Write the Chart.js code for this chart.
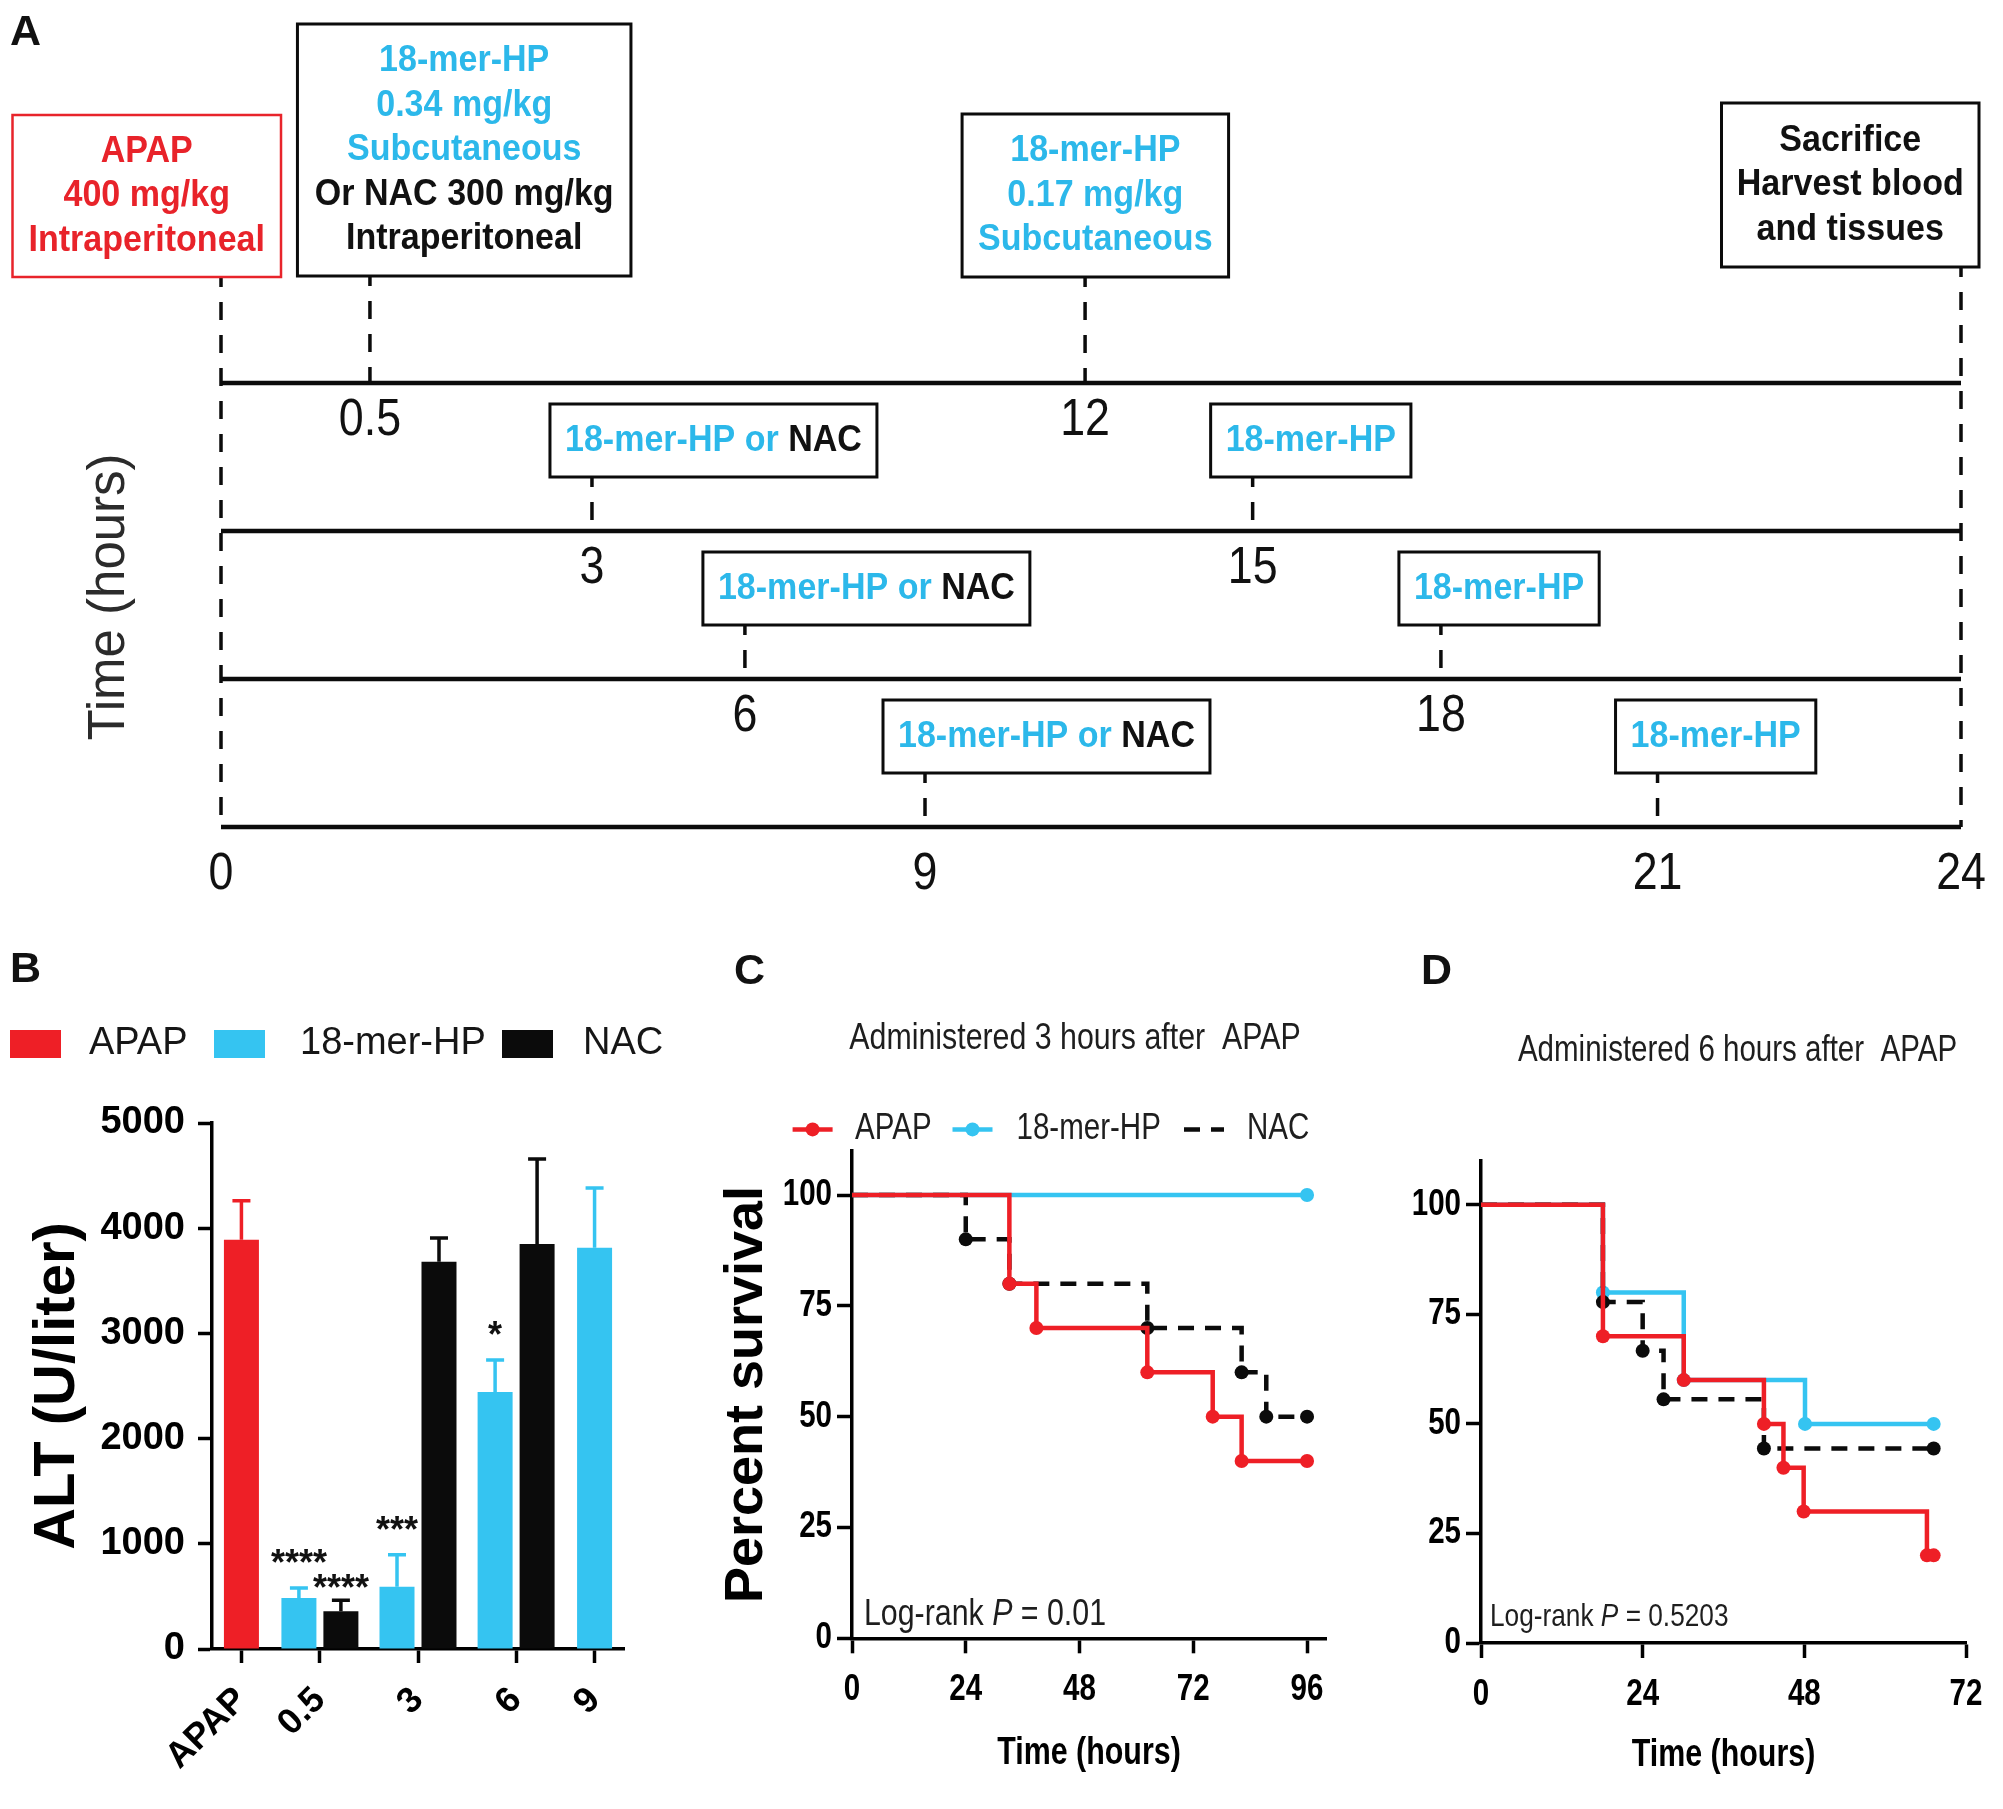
<!DOCTYPE html>
<html>
<head>
<meta charset="utf-8">
<script src="https://cdn.jsdelivr.net/npm/chart.js@4.4.1/dist/chart.umd.min.js"></script>
<style>
html,body{margin:0;padding:0;background:#fff;}
#wrap{position:relative;width:2003px;height:1809px;overflow:hidden;background:#fff;}
.pane{position:absolute;}
.pane canvas{display:block;}
.lab{position:absolute;font:bold 43px "Liberation Sans",Arial,sans-serif;color:#111;line-height:1;}
</style>
</head>
<body>
<div id="wrap">
  <div class="pane" style="left:0;top:0;width:2003px;height:935px"><canvas id="cA"></canvas></div>
  <div class="pane" style="left:0;top:940px;width:690px;height:869px"><canvas id="cB"></canvas></div>
  <div class="pane" style="left:690px;top:940px;width:690px;height:869px"><canvas id="cC"></canvas></div>
  <div class="pane" style="left:1380px;top:940px;width:623px;height:869px"><canvas id="cD"></canvas></div>
  <div class="lab" style="left:10px;top:9px">A</div>
  <div class="lab" style="left:10px;top:946px">B</div>
  <div class="lab" style="left:734px;top:948px">C</div>
  <div class="lab" style="left:1421px;top:948px">D</div>
</div>
<script>
// ================= DATA =================
// Panel A : dosing timeline (hours)
const timeTicks     = [0, 0.5, 3, 6, 9, 12, 15, 18, 21, 24];
const timeTickRows  = [4, 1, 2, 3, 4, 1, 2, 3, 4, 4];
const timelineRows  = [1, 2, 3, 4];
const doseTimes     = [3, 6, 9, 15, 18, 21];
const doseRows      = [2, 3, 4, 2, 3, 4];
const doseHP        = ['18-mer-HP or ', '18-mer-HP or ', '18-mer-HP or ', '18-mer-HP', '18-mer-HP', '18-mer-HP'];
const doseNAC       = ['NAC', 'NAC', 'NAC', '', '', ''];
const keyTimes      = [0, 0.5, 12, 24];
const keyRowTo      = [4, 1, 1, 4];
const keyText = [
  [['APAP','r'], ['400 mg/kg','r'], ['Intraperitoneal','r']],
  [['18-mer-HP','c'], ['0.34 mg/kg','c'], ['Subcutaneous','c'], ['Or NAC 300 mg/kg','k'], ['Intraperitoneal','k']],
  [['18-mer-HP','c'], ['0.17 mg/kg','c'], ['Subcutaneous','c']],
  [['Sacrifice','k'], ['Harvest blood','k'], ['and tissues','k']]
];

// Panel B : ALT (U/liter)
const altCategories = ['APAP', '0.5', '3', '6', '9'];
const altAPAP     = [3890, null, null, null, null];
const altAPAPErr  = [372, null, null, null, null];
const altHP       = [null, 485, 591, 2442, 3813];
const altHPErr    = [null, 95, 306, 306, 570];
const altNAC      = [null, 359, 3681, 3850, null];
const altNACErr   = [null, 105, 227, 807, null];
const altHPStars  = [null, '****', '***', '*', null];
const altNACStars = [null, '****', null, null, null];

// Panel C : survival, administered 3 h after APAP
const cAPAPt = [0, 33.2, 38.9, 62.3, 76.1, 82.2, 96];
const cAPAPp = [100, 80, 70, 60, 50, 40, 40];
const cHPt   = [0, 96];
const cHPp   = [100, 100];
const cNACt  = [0, 24, 33.2, 62.3, 82.2, 87.4, 96];
const cNACp  = [100, 90, 80, 70, 60, 50, 50];

// Panel D : survival, administered 6 h after APAP
const dAPAPt = [0, 18.1, 30.1, 42, 44.9, 47.9, 66.2, 67.2];
const dAPAPp = [100, 70, 60, 50, 40, 30, 20, 20];
const dHPt   = [0, 18.1, 30.1, 48.1, 67.2];
const dHPp   = [100, 80, 60, 50, 50];
const dNACt  = [0, 18.1, 24, 27.1, 42, 67.2];
const dNACp  = [100, 77.8, 66.7, 55.6, 44.4, 44.4];

// ================= STYLE / LAYOUT =================
const FONT = '"Liberation Sans", Arial, sans-serif';
const RED = '#ee1f26', CYAN = '#35c4f1', BLACK = '#0b0b0b';
const TXT = {r: '#e8232a', c: '#2cb8ea', k: '#111111'};
const SQ = 0.82; // horizontal condensing of the survival-panel lettering
Chart.defaults.font.family = FONT;
Chart.defaults.color = '#000';

// schematic (non-linear) time axis stops for panel A
const timelineAxisStops = [0, 0.0856, 0.2132, 0.3011, 0.4046, 0.4966, 0.5929, 0.7011, 0.8256, 1];
const keyBoxLayout = [
  {l: -208.5, r: 60,    t: -268, b: -106, color: '#e8242b', lw: 2.5},
  {l: -72.5,  r: 261,   t: -359, b: -107, color: BLACK, lw: 3},
  {l: -123,   r: 143.5, t: -269, b: -106, color: BLACK, lw: 3},
  {l: -239.5, r: 18,    t: -280, b: -116, color: BLACK, lw: 3}
];

function txt(ctx, s, x, y, o) {
  ctx.save();
  ctx.translate(x, y);
  if (o.rot) ctx.rotate(o.rot);
  if (o.sx && o.sx !== 1) ctx.scale(o.sx, 1);
  ctx.font = o.font; ctx.fillStyle = o.color || '#000';
  ctx.textAlign = o.align || 'center'; ctx.textBaseline = o.base || 'middle';
  ctx.fillText(s, 0, 0);
  ctx.restore();
}

// ---- custom scales ----
class SchematicScale extends Chart.LinearScale {
  getPixelForValue(value) {
    const t = timeTicks, f = timelineAxisStops;
    let frac = 0;
    if (value <= t[0]) frac = f[0];
    else if (value >= t[t.length - 1]) frac = f[f.length - 1];
    else {
      for (let i = 0; i < t.length - 1; i++) {
        if (value >= t[i] && value <= t[i + 1]) {
          frac = f[i] + (value - t[i]) / (t[i + 1] - t[i]) * (f[i + 1] - f[i]);
          break;
        }
      }
    }
    return this.getPixelForDecimal(frac);
  }
}
SchematicScale.id = 'schematic';
SchematicScale.defaults = Chart.LinearScale.defaults;

const altSeries = [altAPAP, altHP, altNAC];
const altWeights = altCategories.map((_, i) => 2 * altSeries.filter(s => s[i] != null).length + 1);
class WeightedCategoryScale extends Chart.CategoryScale {
  getPixelForValue(value) {
    if (typeof value !== 'number') value = this.parse(value);
    if (value === null || value === undefined || isNaN(value)) return NaN;
    let before = 0, total = 0;
    altWeights.forEach((w, i) => { total += w; if (i < value) before += w; });
    return this.getPixelForDecimal((before + altWeights[value] / 2) / total);
  }
}
WeightedCategoryScale.id = 'weightedCategory';
WeightedCategoryScale.defaults = Chart.CategoryScale.defaults;
Chart.register(SchematicScale, WeightedCategoryScale);

// ================= PANEL A =================
function dashedLine(ctx, x1, y1, x2, y2) {
  ctx.save();
  ctx.strokeStyle = BLACK; ctx.lineWidth = 3.5;
  ctx.setLineDash([18, 15]); ctx.lineDashOffset = 8;
  ctx.beginPath(); ctx.moveTo(x1, y1); ctx.lineTo(x2, y2); ctx.stroke();
  ctx.restore();
}
function boxRect(ctx, x, y, w, h, color, lw) {
  ctx.save();
  ctx.fillStyle = '#fff'; ctx.fillRect(x, y, w, h);
  ctx.strokeStyle = color; ctx.lineWidth = lw; ctx.strokeRect(x, y, w, h);
  ctx.restore();
}
const timelinePlugin = {
  id: 'timeline',
  afterDatasetsDraw(chart) {
    const ctx = chart.ctx, xs = chart.scales.x, ys = chart.scales.y;
    const X = t => xs.getPixelForValue(t), Y = r => ys.getPixelForValue(r);
    const boxFont = 'bold 37px ' + FONT, SX = 0.92;
    ctx.save();
    ctx.font = boxFont;
    const w = s => ctx.measureText(s).width * SX;
    keyTimes.forEach((t, k) => {
      const L = keyBoxLayout[k], x = X(t), base = Y(1);
      const bx = x + L.l, bw = L.r - L.l, by = base + L.t, bh = L.b - L.t;
      dashedLine(ctx, x, by + bh, x, Y(keyRowTo[k]));
      boxRect(ctx, bx, by, bw, bh, L.color, L.lw);
      const lines = keyText[k], cx = bx + bw / 2, cy = by + bh / 2;
      lines.forEach((ln, j) => {
        txt(ctx, ln[0], cx, cy + (j - (lines.length - 1) / 2) * 44.5, {font: boxFont, color: TXT[ln[1]], sx: SX});
      });
    });
    doseTimes.forEach((t, k) => {
      const x = X(t), lineY = Y(doseRows[k]), aboveY = Y(doseRows[k] - 1);
      const s1 = doseHP[k], s2 = doseNAC[k];
      ctx.font = boxFont;
      const w1 = w(s1), w2 = s2 ? w(s2) : 0, tw = w1 + w2;
      const bx = x - 42, bw = tw + 30, by = aboveY + 21, bh = 73;
      dashedLine(ctx, x, by + bh, x, lineY);
      boxRect(ctx, bx, by, bw, bh, BLACK, 3);
      const tx = bx + (bw - tw) / 2, ty = by + bh / 2;
      txt(ctx, s1, tx, ty, {font: boxFont, color: TXT.c, sx: SX, align: 'left'});
      if (s2) txt(ctx, s2, tx + w1, ty, {font: boxFont, color: TXT.k, sx: SX, align: 'left'});
    });
    timeTicks.forEach((t, i) => {
      const r = timeTickRows[i];
      txt(ctx, String(t), X(t), Y(r) + (r === 4 ? 48 : 38), {font: '52px ' + FONT, color: '#111', sx: 0.86});
    });
    txt(ctx, 'Time (hours)', 110, 597, {font: '51px ' + FONT, color: '#2b2b2b', rot: -Math.PI / 2});
    ctx.restore();
  }
};
new Chart(document.getElementById('cA'), {
  type: 'line',
  data: {
    datasets: timelineRows.map(r => ({
      data: [{x: timeTicks[0], y: r}, {x: timeTicks[timeTicks.length - 1], y: r}],
      borderColor: BLACK, borderWidth: 4.5, pointRadius: 0, borderCapStyle: 'butt', clip: false
    }))
  },
  options: {
    responsive: true, maintainAspectRatio: false, animation: false, devicePixelRatio: 1, events: [],
    layout: {padding: {left: 221, right: 42, top: 309, bottom: 34}},
    plugins: {legend: {display: false}, tooltip: {enabled: false}},
    scales: {
      x: {type: 'schematic', min: 0, max: 24, display: false},
      y: {type: 'linear', min: 0.5, max: 4.5, reverse: true, display: false}
    }
  },
  plugins: [timelinePlugin]
});

// ================= PANEL B =================
const errorBarPlugin = {
  id: 'errorBars',
  afterDatasetsDraw(chart) {
    const ctx = chart.ctx, y = chart.scales.y;
    chart.data.datasets.forEach((ds, di) => {
      const meta = chart.getDatasetMeta(di);
      meta.data.forEach((bar, i) => {
        const v = ds.data[i], e = ds.errors[i];
        if (v == null || e == null) return;
        const top = y.getPixelForValue(v + e);
        ctx.save();
        ctx.strokeStyle = ds.backgroundColor; ctx.lineWidth = 3.5;
        ctx.beginPath();
        ctx.moveTo(bar.x, bar.y); ctx.lineTo(bar.x, top);
        ctx.moveTo(bar.x - 9, top); ctx.lineTo(bar.x + 9, top);
        ctx.stroke();
        ctx.restore();
        const s = ds.stars && ds.stars[i];
        if (s) txt(ctx, s, bar.x, top - ds.starLift, {font: 'bold 36px ' + FONT, color: '#111', base: 'alphabetic'});
      });
    });
  }
};
const legendBPlugin = {
  id: 'legendB',
  afterDraw(chart) {
    const ctx = chart.ctx;
    const pos = [{x: 10, tx: 89}, {x: 214, tx: 300}, {x: 502, tx: 583}];
    chart.data.datasets.forEach((ds, i) => {
      ctx.save(); ctx.fillStyle = ds.backgroundColor; ctx.fillRect(pos[i].x, 90, 51, 28); ctx.restore();
      txt(ctx, ds.label, pos[i].tx, 104, {font: '38px ' + FONT, color: '#161616', align: 'left'});
    });
  }
};
const axisLine = {display: true, color: '#000', width: 3.5};
new Chart(document.getElementById('cB'), {
  type: 'bar',
  data: {
    labels: altCategories,
    datasets: [
      {label: 'APAP', data: altAPAP, errors: altAPAPErr, stars: null, starLift: 12, backgroundColor: RED},
      {label: '18-mer-HP', data: altHP, errors: altHPErr, stars: altHPStars, starLift: 13, backgroundColor: CYAN},
      {label: 'NAC', data: altNAC, errors: altNACErr, stars: altNACStars, starLift: 0, backgroundColor: BLACK}
    ]
  },
  options: {
    responsive: true, maintainAspectRatio: false, animation: false, devicePixelRatio: 1, events: [],
    layout: {padding: {left: 0, right: 66, top: 183, bottom: 0}},
    datasets: {bar: {skipNull: true, categoryPercentage: 1.07, barPercentage: 0.9, maxBarThickness: 35, borderWidth: 0}},
    plugins: {legend: {display: false}, tooltip: {enabled: false}},
    scales: {
      x: {
        type: 'weightedCategory', offset: true,
        grid: {display: true, drawOnChartArea: false, offset: false, tickLength: 14, tickWidth: 3.5, tickColor: '#000'},
        border: axisLine,
        ticks: {font: {size: 36, weight: 'bold'}, color: '#000', maxRotation: 45, minRotation: 45, autoSkip: false, padding: 16},
        afterFit: s => { s.height = 160; }
      },
      y: {
        min: 0, max: 5000,
        ticks: {stepSize: 1000, font: {size: 38, weight: 'bold'}, color: '#000', padding: 13, callback: v => String(v)},
        grid: {drawOnChartArea: false, tickLength: 14, tickWidth: 3.5, tickColor: '#000'},
        border: axisLine,
        title: {display: true, text: 'ALT (U/liter)', font: {size: 58, weight: 'bold'}, color: '#000', padding: {top: 23, bottom: 0}},
        afterFit: s => { s.width = 212; }
      }
    }
  },
  plugins: [errorBarPlugin, legendBPlugin]
});

// ================= PANELS C & D =================
const zip = (t, p) => t.map((x, i) => ({x: x, y: p[i]}));
function kmSet(label, t, p, color, order, dash, legendDot) {
  return {
    label, data: zip(t, p), borderColor: color, backgroundColor: color,
    pointBackgroundColor: color, pointBorderColor: color, pointBorderWidth: 0,
    pointRadius: c => (c.dataIndex === 0 ? 0 : 7), pointHoverRadius: 0,
    borderWidth: 4.5, borderDash: dash || [], stepped: 'before', order: order,
    fill: false, tension: 0, clip: false, legendDot: legendDot
  };
}
function kmDecor(o) {
  return {
    id: 'kmDecor',
    afterDraw(chart) {
      const ctx = chart.ctx, xs = chart.scales.x, ys = chart.scales.y, ca = chart.chartArea;
      // tick labels
      const tf = 'bold 36px ' + FONT;
      xs.ticks.forEach((t, i) => txt(ctx, String(t.value), xs.getPixelForTick(i), ca.bottom + o.xLabelDy, {font: tf, sx: SQ, color: '#000'}));
      ys.ticks.forEach((t, i) => txt(ctx, String(t.value), ca.left - 20, ys.getPixelForTick(i), {font: tf, sx: SQ, color: '#000', align: 'right'}));
      // x title
      txt(ctx, 'Time (hours)', (ca.left + ca.right) / 2, o.xTitleY, {font: 'bold 38px ' + FONT, sx: 0.8, color: '#000'});
      // panel title
      txt(ctx, o.title, o.titleX, o.titleY, {font: o.titleSize + 'px ' + FONT, sx: SQ, color: '#1e1e1e'});
      // log-rank
      const f = o.lrSize + 'px ' + FONT, fi = 'italic ' + o.lrSize + 'px ' + FONT;
      ctx.save();
      ctx.font = f; const w1 = ctx.measureText('Log-rank ').width * SQ;
      ctx.font = fi; const w2 = ctx.measureText('P').width * SQ;
      ctx.restore();
      txt(ctx, 'Log-rank ', o.lrX, o.lrY, {font: f, sx: SQ, color: '#1e1e1e', align: 'left'});
      txt(ctx, 'P', o.lrX + w1, o.lrY, {font: fi, sx: SQ, color: '#1e1e1e', align: 'left'});
      txt(ctx, o.lrText, o.lrX + w1 + w2, o.lrY, {font: f, sx: SQ, color: '#1e1e1e', align: 'left'});
      if (o.legend) {
        chart.data.datasets.forEach((ds, i) => {
          const L = o.legend[i];
          ctx.save();
          ctx.strokeStyle = ds.borderColor; ctx.lineWidth = 4.5;
          ctx.setLineDash(ds.borderDash || []);
          ctx.beginPath(); ctx.moveTo(L.x1, o.legendY); ctx.lineTo(L.x2, o.legendY); ctx.stroke();
          if (ds.legendDot) {
            ctx.fillStyle = ds.borderColor;
            ctx.beginPath(); ctx.arc((L.x1 + L.x2) / 2, o.legendY, 7, 0, Math.PI * 2); ctx.fill();
          }
          ctx.restore();
          txt(ctx, ds.label, L.tx, o.legendY, {font: '36px ' + FONT, sx: SQ, color: '#1e1e1e', align: 'left'});
        });
      }
    }
  };
}
function kmScales(xMax, yW, xH, yTitle) {
  const y = {
    min: 0, max: 110,
    ticks: {stepSize: 25, includeBounds: false, display: false},
    grid: {drawOnChartArea: false, drawTicks: true, tickLength: 15, tickWidth: 3.5, tickColor: '#000'},
    border: axisLine,
    afterFit: s => { s.width = yW; }
  };
  if (yTitle) y.title = {display: true, text: yTitle, font: {family: FONT, size: 54, weight: 'bold'}, color: '#000', padding: {top: 24.6, bottom: 0}};
  return {
    x: {
      type: 'linear', min: 0, max: xMax,
      ticks: {stepSize: 24, includeBounds: false, display: false},
      grid: {drawOnChartArea: false, drawTicks: true, tickLength: 15, tickWidth: 3.5, tickColor: '#000'},
      border: axisLine,
      afterFit: s => { s.height = xH; }
    },
    y: y
  };
}
new Chart(document.getElementById('cC'), {
  type: 'line',
  data: {datasets: [
    kmSet('APAP', cAPAPt, cAPAPp, RED, 0, null, true),
    kmSet('18-mer-HP', cHPt, cHPp, CYAN, 2, null, true),
    kmSet('NAC', cNACt, cNACp, BLACK, 1, [16, 11], false)
  ]},
  options: {
    responsive: true, maintainAspectRatio: false, animation: false, devicePixelRatio: 1, events: [],
    layout: {padding: {left: 0, right: 54, top: 210.7, bottom: 0}},
    plugins: {legend: {display: false}, tooltip: {enabled: false}},
    scales: kmScales(100, 162, 170.7, 'Percent survival')
  },
  plugins: [kmDecor({
    xLabelDy: 51.7, xTitleY: 814,
    title: 'Administered 3 hours after  APAP', titleX: 385, titleY: 99, titleSize: 37,
    lrX: 174, lrY: 675, lrSize: 37, lrText: ' = 0.01',
    legendY: 189.4,
    legend: [{x1: 102.6, x2: 142.6, tx: 165}, {x1: 262.5, x2: 302.5, tx: 326.5}, {x1: 494, x2: 534, tx: 557}]
  })]
});
new Chart(document.getElementById('cD'), {
  type: 'line',
  data: {datasets: [
    kmSet('APAP', dAPAPt, dAPAPp, RED, 0, null, true),
    kmSet('18-mer-HP', dHPt, dHPp, CYAN, 2, null, true),
    kmSet('NAC', dNACt, dNACp, BLACK, 1, [16, 11], false)
  ]},
  options: {
    responsive: true, maintainAspectRatio: false, animation: false, devicePixelRatio: 1, events: [],
    layout: {padding: {left: 0, right: 37, top: 221, bottom: 0}},
    plugins: {legend: {display: false}, tooltip: {enabled: false}},
    scales: kmScales(72, 101, 166, null)
  },
  plugins: [kmDecor({
    xLabelDy: 52, xTitleY: 816,
    title: 'Administered 6 hours after  APAP', titleX: 357.5, titleY: 111, titleSize: 36,
    lrX: 110, lrY: 677, lrSize: 32, lrText: ' = 0.5203'
  })]
});
</script>
</body>
</html>
